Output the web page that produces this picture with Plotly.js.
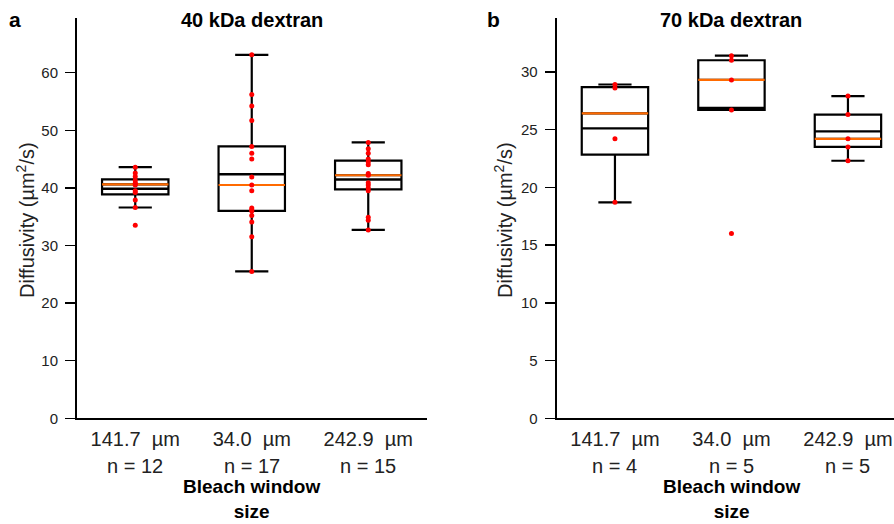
<!DOCTYPE html>
<html>
<head>
<meta charset="utf-8">
<script src="https://cdn.plot.ly/plotly-3.0.1.min.js"></script>
<style>html,body{margin:0;padding:0;background:#fff;}#chart{width:894px;height:524px;}</style>
</head>
<body>
<div id="chart"></div>
<script>
// Categories (bleach window size) and positions
const categories = ['141.7\u00a0\u00a0µm', '34.0\u00a0\u00a0µm', '242.9\u00a0\u00a0µm'];
const positions = [1, 2, 3];

// 40 kDa dextran diffusivity (µm²/s)
const d40_141 = [33.5, 36.6, 37.9, 39.2, 39.5, 40.5, 40.7, 40.8, 41.3, 42.0, 42.6, 43.6];
const d40_34  = [25.5, 31.5, 34.1, 35.2, 36.0, 36.2, 36.5, 39.5, 40.5, 41.9, 45.0, 46.0, 47.2, 51.7, 54.2, 56.2, 63.1];
const d40_243 = [32.7, 34.4, 34.9, 39.5, 40.0, 40.5, 40.9, 42.2, 42.5, 44.0, 44.5, 45.0, 46.0, 46.8, 47.9];

// 70 kDa dextran diffusivity (µm²/s)
const d70_141 = [18.7, 24.2, 28.6, 28.9];
const d70_34  = [16.0, 26.7, 29.3, 31.0, 31.4];
const d70_243 = [22.3, 23.5, 24.2, 26.3, 27.9];

const panelTitles = ['40 kDa dextran', '70 kDa dextran'];
const panelLetters = ['a', 'b'];
const yTicks40 = [0, 10, 20, 30, 40, 50, 60];
const yTicks70 = [0, 5, 10, 15, 20, 25, 30];

function pct(sorted, p) {
  const pos = p * (sorted.length - 1);
  const lo = Math.floor(pos), hi = Math.ceil(pos);
  return sorted[lo] + (sorted[hi] - sorted[lo]) * (pos - lo);
}
function stats(arr) {
  const s = arr.slice().sort((a, b) => a - b);
  const q1 = pct(s, 0.25), q3 = pct(s, 0.75), med = pct(s, 0.5);
  const iqr = q3 - q1;
  const lf = Math.min(...s.filter(v => v >= q1 - 1.5 * iqr));
  const uf = Math.max(...s.filter(v => v <= q3 + 1.5 * iqr));
  const mean = s.reduce((a, b) => a + b, 0) / s.length;
  return {q1, q3, med, lf, uf, mean};
}

const BOXW = 0.57;
const traces = [];
function addPanel(groups, xa, ya) {
  const st = groups.map(stats);
  traces.push({
    type: 'box', xaxis: xa, yaxis: ya, x: positions,
    q1: st.map(s => s.q1), median: st.map(s => s.med), q3: st.map(s => s.q3),
    lowerfence: st.map(s => s.lf), upperfence: st.map(s => s.uf),
    width: BOXW, whiskerwidth: 0.5, boxpoints: false,
    line: {color: '#000', width: 2.2}, fillcolor: 'rgba(0,0,0,0)',
    showlegend: false, hoverinfo: 'skip'
  });
  st.forEach((s, i) => {
    const p = positions[i];
    traces.push({type: 'scatter', mode: 'lines', xaxis: xa, yaxis: ya,
      x: [p - BOXW / 2, p + BOXW / 2], y: [s.mean, s.mean],
      line: {color: '#000', width: 2.4}, showlegend: false, hoverinfo: 'skip'});
    traces.push({type: 'scatter', mode: 'lines', xaxis: xa, yaxis: ya,
      x: [p - BOXW / 2, p + BOXW / 2], y: [s.med, s.med],
      line: {color: '#ff6a00', width: 2.2}, showlegend: false, hoverinfo: 'skip'});
  });
  groups.forEach((g, i) => {
    traces.push({type: 'scatter', mode: 'markers', xaxis: xa, yaxis: ya,
      x: g.map(() => positions[i]), y: g,
      marker: {color: '#ff0000', size: 5}, showlegend: false, hoverinfo: 'skip'});
  });
}
const g40 = [d40_141, d40_34, d40_243];
const g70 = [d70_141, d70_34, d70_243];
addPanel(g40, 'x', 'y');
addPanel(g70, 'x2', 'y2');

const W = 894, H = 524;
const yBot = 418.3, yTop = 18;
const yDom = [(H - yBot) / H, (H - yTop) / H];
const pxPerUnit = 116.5;
const left0 = 77, right0 = 556.7;

const FONT = 'Liberation Sans, Arial, sans-serif';
const TXT = '#222';
function yaxisDef(range, ticks, anchor) {
  return {domain: yDom, range: range, anchor: anchor, tickvals: ticks,
    showline: true, linewidth: 2, linecolor: '#000', mirror: false,
    ticks: 'outside', ticklen: 10, tickwidth: 1.5, tickcolor: '#000',
    ticklabelstandoff: 4,
    tickfont: {family: FONT, size: 15, color: TXT},
    showgrid: false, zeroline: false, fixedrange: true};
}
function xaxisDef(domain, range, anchor) {
  return {domain: domain, range: range, anchor: anchor,
    tickvals: positions, ticktext: categories,
    showline: true, linewidth: 2, linecolor: '#000', ticks: '',
    ticklabelstandoff: 2,
    tickfont: {family: FONT, size: 20, color: TXT},
    showgrid: false, zeroline: false, fixedrange: true};
}

const annotations = [];
function addPanelText(groups, xref, k, letterX) {
  groups.forEach((g, i) => {
    annotations.push({xref: xref, yref: 'paper', x: positions[i], y: (H - 466) / H,
      text: 'n = ' + g.length, showarrow: false, yanchor: 'middle',
      font: {family: FONT, size: 20, color: TXT}});
  });
  annotations.push({xref: xref, yref: 'paper', x: 2, y: (H - 499) / H,
    text: '<b>Bleach window<br>size</b>', showarrow: false, yanchor: 'middle',
    font: {family: FONT, size: 19, color: '#000'}});
  annotations.push({xref: xref, yref: 'paper', x: 2, y: (H - 20) / H,
    text: '<b>' + panelTitles[k] + '</b>', showarrow: false, yanchor: 'middle',
    font: {family: FONT, size: 20, color: '#000'}});
  annotations.push({xref: 'paper', yref: 'paper', x: letterX / W, y: (H - 20) / H,
    text: '<b>' + panelLetters[k] + '</b>', showarrow: false, yanchor: 'middle', xanchor: 'center',
    font: {family: FONT, size: 21, color: '#000'}});
  annotations.push({xref: 'paper', yref: 'paper', x: (letterX + 10) / W, y: (H - 220) / H,
    text: 'Diffusivity (µm<sup>2</sup>/s)', showarrow: false, textangle: -90,
    xanchor: 'center', yanchor: 'middle',
    font: {family: FONT, size: 20, color: TXT}});
}
addPanelText(g40, 'x', 0, 15);
addPanelText(g70, 'x2', 1, 493);

const layout = {
  width: W, height: H, margin: {l: 0, r: 0, t: 0, b: 0},
  paper_bgcolor: '#fff', plot_bgcolor: '#fff', showlegend: false,
  xaxis: xaxisDef([left0 / W, (left0 + 3 * pxPerUnit) / W], [0.5, 3.5], 'y'),
  yaxis: yaxisDef([0, (yBot - yTop) / 5.76], yTicks40, 'x'),
  xaxis2: xaxisDef([right0 / W, 1], [0.5, 0.5 + (W - right0) / pxPerUnit], 'y2'),
  yaxis2: yaxisDef([0, (yBot - yTop) / 11.55], yTicks70, 'x2'),
  annotations: annotations
};
Plotly.newPlot('chart', traces, layout, {displayModeBar: false, staticPlot: true});
</script>
</body>
</html>
